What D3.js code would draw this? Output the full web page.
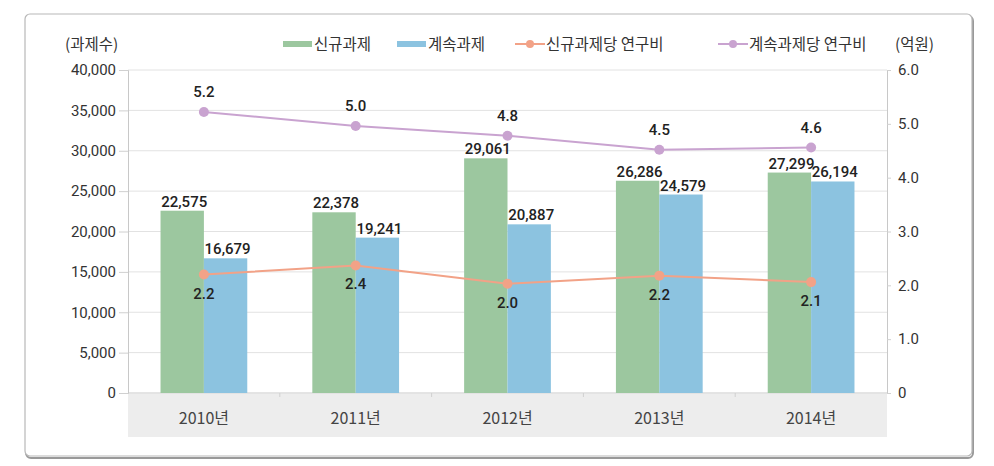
<!DOCTYPE html>
<html><head><meta charset="utf-8">
<script src="https://cdn.jsdelivr.net/npm/d3@7"></script>
<style>
html,body{margin:0;padding:0;background:#fff;}
svg{display:block;}
text{font-family:"Roboto","Noto Sans CJK KR",sans-serif;}
.kr{font-family:"Noto Sans CJK KR","Noto Sans",sans-serif;}
</style></head>
<body>
<svg id="chart" width="994" height="466"></svg>
<script>
const categories = ["2010년","2011년","2012년","2013년","2014년"];
const newTasks = [22575, 22378, 29061, 26286, 27299];
const contTasks = [16679, 19241, 20887, 24579, 26194];
const newCost = [2.2, 2.37, 2.03, 2.18, 2.06];
const contCost = [5.22, 4.96, 4.78, 4.52, 4.56];
const leftTicks = [0,5000,10000,15000,20000,25000,30000,35000,40000];
const rightTicks = [0,1,2,3,4,5,6];
const seriesNames = ["신규과제","계속과제","신규과제당 연구비","계속과제당 연구비"];

const C = {green:"#9cc79f", blue:"#8cc3e0", orange:"#f2a287", purple:"#c9a3d0"};

const svg = d3.select("#chart");
// frame
svg.append("rect").attr("x",26).attr("y",16).attr("width",947).attr("height",442)
  .attr("rx",5).attr("fill","none").attr("stroke","#999").attr("stroke-width",2);
svg.append("rect").attr("x",25).attr("y",14).attr("width",947).attr("height",442)
  .attr("rx",5).attr("fill","#fff").attr("stroke","#b8b8b8").attr("stroke-width",1.2);

const L = 128, R = 887, T = 70, B = 393;
const x = d3.scaleBand().domain(categories).range([L,R]).paddingInner(0).paddingOuter(0);
const sub = d3.scaleBand().domain(["new","cont"]).range([0, x.bandwidth()]).paddingOuter(0.75).paddingInner(0);
const yL = d3.scaleLinear().domain([0,40000]).range([B,T]);
const yR = d3.scaleLinear().domain([0,6]).range([B,T]);

// category band background
svg.append("rect").attr("x",L).attr("y",B+1).attr("width",R-L).attr("height",43).attr("fill","#ededed");

// grid
svg.append("g").selectAll("line").data(leftTicks.filter(d=>d>0)).join("line")
  .attr("x1",L).attr("x2",R).attr("y1",d=>yL(d)).attr("y2",d=>yL(d))
  .attr("stroke","#e2e2e2").attr("stroke-width",1);

// left axis
const axL = svg.append("g").attr("transform",`translate(${L},0)`)
  .call(d3.axisLeft(yL).tickValues(leftTicks).tickSize(9).tickPadding(3).tickFormat(d3.format(",")));
axL.select(".domain").attr("stroke","#c8c8c8");
axL.selectAll(".tick line").attr("stroke","#d0d0d0");
axL.selectAll("text").attr("font-size",15).attr("fill","#333");

// right axis
const axR = svg.append("g").attr("transform",`translate(${R},0)`)
  .call(d3.axisRight(yR).tickValues(rightTicks).tickSize(4).tickPadding(7).tickFormat(d=>d===0?"0":d3.format(".1f")(d)));
axR.select(".domain").attr("stroke","#c8c8c8");
axR.selectAll(".tick line").attr("stroke","#d0d0d0");
axR.selectAll("text").attr("font-size",15).attr("fill","#333");

// baseline
svg.append("line").attr("x1",L).attr("x2",R).attr("y1",B).attr("y2",B).attr("stroke","#c8c8c8");
// band separators ticks
svg.append("g").selectAll("line").data(categories.slice(1)).join("line")
  .attr("x1",d=>x(d)).attr("x2",d=>x(d)).attr("y1",B).attr("y2",B+4).attr("stroke","#d0d0d0");

// category labels
svg.append("g").selectAll("text").data(categories).join("text")
  .attr("class","kr")
  .attr("x",d=>x(d)+x.bandwidth()/2).attr("y",B+31).attr("text-anchor","middle")
  .attr("font-size",16).attr("fill","#444").text(d=>d);

// bars
const groups = [["new",newTasks,C.green],["cont",contTasks,C.blue]];
groups.forEach(([k,vals,col])=>{
  svg.append("g").selectAll("rect").data(vals).join("rect")
    .attr("x",(d,i)=>x(categories[i])+sub(k)).attr("width",sub.bandwidth())
    .attr("y",d=>yL(d)).attr("height",d=>B-yL(d)).attr("fill",col);
});
groups.forEach(([k,vals])=>{
  svg.append("g").selectAll("text").data(vals).join("text")
    .attr("x",(d,i)=>x(categories[i])+sub(k)+sub.bandwidth()/2+2).attr("y",d=>yL(d)-4)
    .attr("text-anchor","middle").attr("font-size",15).attr("font-weight",500).attr("fill","#222")
    .text(d=>d3.format(",")(d));
});

// lines
const cx = i => x(categories[i]) + x.bandwidth()/2;
[[newCost,C.orange,24],[contCost,C.purple,-15]].forEach(([vals,col,dy])=>{
  const line = d3.line().x((d,i)=>cx(i)).y(d=>yR(d));
  svg.append("path").datum(vals).attr("d",line).attr("fill","none").attr("stroke",col).attr("stroke-width",2);
  svg.append("g").selectAll("circle").data(vals).join("circle")
    .attr("cx",(d,i)=>cx(i)).attr("cy",d=>yR(d)).attr("r",5).attr("fill",col);
  svg.append("g").selectAll("text").data(vals).join("text")
    .attr("x",(d,i)=>cx(i)).attr("y",d=>yR(d)+dy)
    .attr("text-anchor","middle").attr("font-size",15).attr("font-weight",500).attr("fill","#222")
    .text(d=>d.toFixed(1));
});

// axis titles
svg.append("text").attr("class","kr").attr("x",65).attr("y",50).attr("font-size",15.5).attr("fill","#333").text("(과제수)");
svg.append("text").attr("class","kr").attr("x",895).attr("y",50).attr("font-size",15.5).attr("fill","#333").text("(억원)");

// legend
const lg = svg.append("g");
const legendItems = [
  {name:seriesNames[0], type:"bar", col:C.green, x:283},
  {name:seriesNames[1], type:"bar", col:C.blue, x:397},
  {name:seriesNames[2], type:"line", col:C.orange, x:515},
  {name:seriesNames[3], type:"line", col:C.purple, x:718}
];
legendItems.forEach(it=>{
  if(it.type==="bar"){
    lg.append("rect").attr("x",it.x).attr("y",41).attr("width",29).attr("height",6).attr("fill",it.col);
  } else {
    lg.append("line").attr("x1",it.x).attr("x2",it.x+30).attr("y1",44).attr("y2",44).attr("stroke",it.col).attr("stroke-width",2);
    lg.append("circle").attr("cx",it.x+15).attr("cy",44).attr("r",4).attr("fill",it.col);
  }
  lg.append("text").attr("class","kr").attr("x",it.x+31).attr("y",50).attr("font-size",15.5).attr("fill","#333").text(it.name);
});
</script>
</body></html>
